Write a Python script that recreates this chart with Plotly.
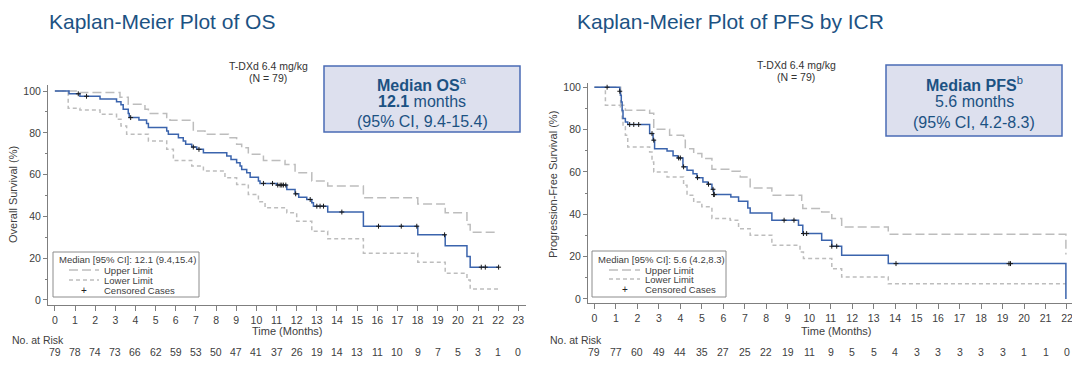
import plotly.graph_objects as go

# page body has an 8px margin; the figure is sized/offset to compensate
OFF = 8
W, H = 1080 - OFF, 368 - OFF
FONT = "Arial, Liberation Sans, sans-serif"
BLUE = "#3b64ad"
GRAY = "#bdbdbd"
TITLE_C = "#1c5283"
TXT = "#404040"

# ---------------- OS data (months, %) ----------------
os_time = [0, 0.70, 1.24, 2.24, 3.06, 3.28, 3.39, 3.64, 3.69, 4.17, 4.55, 4.64, 5.55, 5.63,
           6.13, 6.37, 6.49, 6.79, 7.04, 7.37, 8.53, 8.74, 9.02, 9.19, 9.27, 9.52, 9.69,
           10.10, 10.18, 11.01, 11.51, 11.92, 12.10, 12.50, 12.75, 12.83, 13.54, 15.31,
           18.01, 19.37, 20.45, 20.61]
os_surv = [100, 98.7, 97.5, 96.2, 94.9, 93.4, 91.3, 89.3, 87.3, 86.1, 84.5, 82.5, 80.9, 79.3,
           77.7, 76.1, 74.5, 73.2, 72.1, 70.5, 68.9, 67.3, 65.7, 64.1, 62.5, 60.9, 58.8,
           56.9, 55.8, 55.0, 52.9, 50.8, 49.2, 48.1, 46.5, 44.9, 42.1, 35.3,
           31.2, 26.0, 20.8, 15.7]
os_end = 22.02
os_up_time = [0, 1.24, 3.23, 3.64, 4.47, 4.64, 5.55, 5.71, 6.87, 7.45, 8.61, 9.02, 9.27, 9.60,
              10.35, 11.42, 11.92, 12.75, 13.54, 15.31, 18.01, 19.37, 20.45, 20.61]
os_up = [100, 99.3, 97.0, 93.7, 91.3, 89.3, 87.3, 86.0, 80.9, 79.3, 77.7, 74.5, 72.9, 69.7,
         66.8, 64.9, 60.9, 56.9, 54.5, 48.9, 46.0, 41.7, 36.1, 32.4]
os_lo_time = [0, 0.66, 1.24, 2.24, 3.06, 3.28, 3.56, 4.64, 5.55, 5.88, 6.79, 7.37, 8.44, 9.02,
              9.60, 10.10, 10.43, 11.51, 12.00, 12.75, 13.54, 15.31, 18.01, 19.37, 20.45, 20.61]
os_lo = [100, 91.8, 90.9, 88.9, 86.5, 83.3, 79.3, 76.1, 72.1, 66.8, 64.1, 61.7, 58.5, 55.3,
         50.5, 47.0, 44.1, 41.7, 37.7, 32.9, 29.3, 22.4, 18.1, 12.8, 9.6, 5.3]
os_censor = [1.16, 1.57, 3.76, 6.87, 7.15, 10.35, 10.80, 11.06, 11.18, 11.26, 11.34, 11.46,
             11.95, 12.67, 13.00, 13.16, 13.33, 14.24, 16.06, 17.19, 17.96, 19.34, 21.16,
             21.36, 22.02]
os_risk_month = list(range(24))
os_risk = [79, 78, 74, 73, 66, 62, 59, 53, 50, 47, 41, 37, 26, 19, 14, 13, 11, 10, 9, 7, 5, 3, 1, 0]

# ---------------- PFS data ----------------
pfs_time = [0, 1.18, 1.21, 1.25, 1.29, 1.33, 1.44, 1.55, 2.57, 2.73, 2.80, 3.38, 3.66, 3.87,
            4.12, 4.31, 4.59, 4.77, 5.05, 5.27, 5.47, 5.55, 6.35, 6.71, 7.14, 7.25, 8.26,
            9.50, 9.70, 10.58, 11.05, 11.51, 13.68, 21.95]
pfs_surv = [100, 98.1, 96.2, 93.0, 89.0, 85.2, 83.6, 82.4, 78.1, 75.0, 71.0, 69.9, 67.6, 66.6,
            62.4, 60.8, 59.2, 57.3, 55.3, 54.2, 51.8, 49.3, 48.2, 46.1, 43.0, 40.6, 37.2,
            34.8, 30.9, 27.7, 24.9, 20.6, 16.7, 0]
pfs_up_time = [0, 1.22, 1.44, 2.57, 2.76, 3.50, 4.15, 4.23, 4.62, 5.00, 5.47, 6.32, 6.79, 7.25,
               8.26, 9.65, 9.70, 10.58, 11.05, 11.51, 13.68, 21.95]
pfs_up = [100, 91.5, 89.1, 87.7, 80.2, 77.3, 75.0, 71.0, 68.7, 66.3, 61.3, 60.3, 57.6, 52.4,
          49.0, 46.6, 42.7, 41.1, 38.0, 34.0, 30.6, 21.0]
pfs_lo_time = [0, 0.51, 1.21, 1.29, 1.33, 1.44, 1.55, 2.57, 2.68, 2.76, 3.38, 4.15, 4.31, 4.62,
               5.00, 5.47, 6.32, 6.71, 7.25, 8.26, 9.57, 9.73, 11.05, 11.51, 13.68]
pfs_lo = [100, 91.5, 90.7, 85.2, 81.3, 77.3, 71.8, 69.4, 64.7, 60.0, 57.6, 53.7, 49.0, 45.8,
          43.5, 38.0, 37.2, 33.2, 30.1, 25.4, 22.2, 19.1, 14.3, 10.4, 7.2]
pfs_end = 21.95
pfs_censor = [0.59, 1.18, 1.64, 1.83, 2.06, 2.68, 2.76, 3.92, 4.00, 4.15, 4.80, 5.31, 5.52,
              5.55, 5.58, 8.83, 9.29, 9.73, 9.88, 11.05, 11.28, 14.04, 19.30, 19.37]
pfs_risk_month = list(range(23))
pfs_risk = [79, 77, 60, 49, 44, 35, 27, 25, 22, 19, 11, 9, 5, 5, 4, 3, 3, 3, 3, 3, 1, 1, 0]


def px(x):
    return (x - OFF) / W


def py(y):
    return 1 - (y - OFF) / H


def step_at(times, vals, t):
    v = vals[0]
    for tt, vv in zip(times, vals):
        if tt <= t + 1e-9:
            v = vv
    return v


def extend(times, vals, end):
    xs = list(times) + ([end] if end > times[-1] else [])
    ys = list(vals) + ([vals[-1]] if end > times[-1] else [])
    return xs, ys


fig = go.Figure()


def add_panel(xa, ya, t, s, ut, u, lt, l, end, cens):
    xs, ys = extend(ut, u, end)
    fig.add_trace(go.Scatter(x=xs, y=ys, mode="lines", line=dict(color=GRAY, width=1.5, dash="9px,4px", shape="hv"),
                             xaxis=xa, yaxis=ya, showlegend=False, hoverinfo="skip"))
    xs, ys = extend(lt, l, end)
    fig.add_trace(go.Scatter(x=xs, y=ys, mode="lines", line=dict(color=GRAY, width=1.5, dash="4px,3px", shape="hv"),
                             xaxis=xa, yaxis=ya, showlegend=False, hoverinfo="skip"))
    xs, ys = extend(t, s, end)
    fig.add_trace(go.Scatter(x=xs, y=ys, mode="lines", line=dict(color=BLUE, width=1.5, shape="hv"),
                             xaxis=xa, yaxis=ya, showlegend=False))
    fig.add_trace(go.Scatter(x=cens, y=[step_at(t, s, c) for c in cens], mode="markers",
                             marker=dict(symbol="cross-thin", size=3.5, line=dict(width=1, color="#1a1a1a")),
                             xaxis=xa, yaxis=ya, showlegend=False))


add_panel("x", "y", os_time, os_surv, os_up_time, os_up, os_lo_time, os_lo, os_end, os_censor)
add_panel("x2", "y2", pfs_time, pfs_surv, pfs_up_time, pfs_up, pfs_lo_time, pfs_lo, pfs_end, pfs_censor)

axis_common = dict(showgrid=False, zeroline=False, showline=True, linecolor="#7f7f7f", linewidth=1,
                   ticks="outside", tickcolor="#7f7f7f", tickwidth=1, automargin=False,
                   tickfont=dict(family=FONT, size=10.5, color=TXT))

fig.update_layout(
    width=W, height=H, margin=dict(l=0, r=0, t=0, b=0, autoexpand=False),
    paper_bgcolor="white", plot_bgcolor="white", font=dict(family=FONT, color=TXT),
    xaxis=dict(domain=[px(48), px(526)], range=[-0.342, 23.38], dtick=1, tick0=0, ticklen=5,
               anchor="y", **axis_common),
    yaxis=dict(domain=[py(305), py(85)], range=[-2.4, 102.9], dtick=20, tick0=0, ticklen=4,
               minor=dict(dtick=10, ticklen=2, ticks="outside", tickcolor="#7f7f7f"),
               anchor="x", **axis_common),
    xaxis2=dict(domain=[px(588), px(1076)], range=[-0.30, 22.42], dtick=1, tick0=0, ticklen=5,
                anchor="y2", **axis_common),
    yaxis2=dict(domain=[py(303), py(83)], range=[-1.9, 102.0], dtick=20, tick0=0, ticklen=4,
                minor=dict(dtick=10, ticklen=2, ticks="outside", tickcolor="#7f7f7f"),
                anchor="x2", **axis_common),
)

ann = []
shapes = []


def text(x, y, s, size, color=TXT, xanchor="center", angle=0, xref="paper"):
    ann.append(dict(x=x, y=y, xref=xref, yref="paper", text=s, showarrow=False, xanchor=xanchor,
                    yanchor="middle", textangle=angle, font=dict(family=FONT, size=size, color=color)))


# Titles
text(px(47), py(22), "Kaplan-Meier Plot of OS", 21, TITLE_C, "left")
text(px(575), py(22), "Kaplan-Meier Plot of PFS by ICR", 21, TITLE_C, "left")

# Treatment labels
text(px(268), py(66), "T-DXd 6.4 mg/kg", 10.5, "#333333")
text(px(268), py(78), "(N = 79)", 10.5, "#333333")
text(px(796), py(65), "T-DXd 6.4 mg/kg", 10.5, "#333333")
text(px(796), py(77), "(N = 79)", 10.5, "#333333")

# Median boxes
BOX_FILL = "#dde0ee"
BOX_LINE = "#4a6bb5"
shapes.append(dict(type="rect", xref="paper", yref="paper", x0=px(324), x1=px(520), y0=py(132), y1=py(66),
                   fillcolor=BOX_FILL, line=dict(color=BOX_LINE, width=1.5)))
shapes.append(dict(type="rect", xref="paper", yref="paper", x0=px(886), x1=px(1062), y0=py(136), y1=py(65),
                   fillcolor=BOX_FILL, line=dict(color=BOX_LINE, width=1.5)))
text(px(422), py(84), "<b>Median OS</b><sup>a</sup>", 16, TITLE_C)
text(px(422), py(102), "<b>12.1</b> months", 16, TITLE_C)
text(px(422), py(121), "(95% CI, 9.4-15.4)", 16, TITLE_C)
text(px(974), py(84), "<b>Median PFS</b><sup>b</sup>", 16, TITLE_C)
text(px(974), py(102), "5.6 months", 16, TITLE_C)
text(px(974), py(122), "(95% CI, 4.2-8.3)", 16, TITLE_C)

# Axis titles
text(px(13), py(195), "Overall Survival (%)", 11, TXT, angle=-90)
text(px(553), py(185), "Progression-Free Survival (%)", 11, TXT, angle=-90)
text(px(287), py(331), "Time (Months)", 11, TXT)
text(px(836), py(331), "Time (Months)", 11, TXT)

# Risk tables
text(px(10), py(340), "No. at Risk", 10.5, TXT, "left")
text(px(548), py(340), "No. at Risk", 10.5, TXT, "left")
for m, n in zip(os_risk_month, os_risk):
    ann.append(dict(x=m, y=py(352), xref="x", yref="paper", text=str(n), showarrow=False,
                    xanchor="center", yanchor="middle",
                    font=dict(family=FONT, size=10.5, color=TXT)))
for m, n in zip(pfs_risk_month, pfs_risk):
    ann.append(dict(x=m, y=py(352), xref="x2", yref="paper", text=str(n), showarrow=False,
                    xanchor="center", yanchor="middle",
                    font=dict(family=FONT, size=10.5, color=TXT)))


# In-plot legends
def legend_box(x0, x1, y0, y1, header, tx, sx0, sx1, ly):
    shapes.append(dict(type="rect", xref="paper", yref="paper", x0=px(x0), x1=px(x1), y0=py(y1), y1=py(y0),
                       fillcolor="white", line=dict(color="#8c8c8c", width=1)))
    text(px(tx), py(ly[0]), header, 9.5, TXT, "left")
    shapes.append(dict(type="line", xref="paper", yref="paper", x0=px(sx0), x1=px(sx1), y0=py(ly[1]), y1=py(ly[1]),
                       line=dict(color=GRAY, width=1.5, dash="9px,4px")))
    shapes.append(dict(type="line", xref="paper", yref="paper", x0=px(sx0), x1=px(sx1), y0=py(ly[2]), y1=py(ly[2]),
                       line=dict(color=GRAY, width=1.5, dash="4px,3px")))
    text(px(sx1 + 3), py(ly[1]), "Upper Limit", 9.5, TXT, "left")
    text(px(sx1 + 3), py(ly[2]), "Lower Limit", 9.5, TXT, "left")
    text(px((sx0 + sx1) / 2), py(ly[3]), "+", 10, "#222222")
    text(px(sx1 + 3), py(ly[3]), "Censored Cases", 9.5, TXT, "left")


legend_box(53, 199, 252, 297, "Median [95% CI]: 12.1 (9.4,15.4)", 57, 69, 99, [260, 270, 280, 290])
legend_box(592, 726, 251, 297, "Median [95% CI]: 5.6 (4.2,8.3)", 596, 609, 640, [259, 270, 279, 289])

fig.update_layout(annotations=ann, shapes=shapes)
fig.write_html("out.html")
